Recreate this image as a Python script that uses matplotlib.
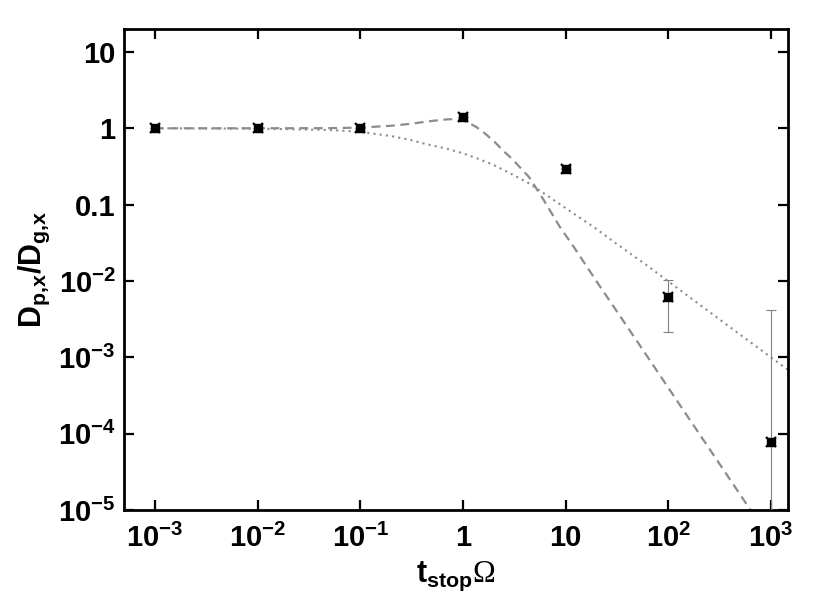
import matplotlib
matplotlib.use("Agg")
import matplotlib.pyplot as plt
import numpy as np

# measured points
t_data = [1e-3, 1e-2, 1e-1, 1.0, 10.0, 100.0, 1000.0]
d_data = [1.0, 1.0, 1.0, 1.4, 0.296, 6.15e-3, 7.7e-5]
err_lo = [0.0, 0.0, 0.0, 0.0, 0.0, 6.15e-3 - 2.14e-3, 7.7e-5 - 1e-8]
err_hi = [0.0, 0.0, 0.0, 0.0, 0.0, 1.02e-2 - 6.15e-3, 4.2e-3 - 7.7e-5]

# dotted model curve
t_dot = [1e-3, 1e-2, 0.05, 0.1, 0.2, 0.3, 0.44, 0.7, 1.0, 1.4, 2.0, 3.0, 4.4, 7.0,
         10.0, 20.0, 30.0, 60.0, 100.0, 300.0, 1000.0, 1500.0]
d_dot = [1.0, 0.99, 0.95, 0.90, 0.79, 0.71, 0.62, 0.54, 0.47, 0.40, 0.33, 0.25, 0.19, 0.125,
         0.09, 0.048, 0.032, 0.0165, 0.0099, 0.0033, 0.001, 0.00067]

# dashed model curve
t_dash = [1e-3, 1e-2, 0.05, 0.1, 0.2, 0.3, 0.4, 0.5, 0.6, 0.7, 0.85, 1.0, 1.15, 1.35, 1.6,
          2.0, 2.5, 3.0, 4.4, 6.0, 8.8, 12.0, 20.0, 50.0, 100.0, 200.0, 500.0, 800.0]
d_dash = [1.0, 1.0, 1.005, 1.02, 1.08, 1.14, 1.20, 1.25, 1.28, 1.31, 1.32, 1.27, 1.17, 1.04, 0.88,
          0.68, 0.50, 0.40, 0.23, 0.12, 0.051, 0.028, 0.0099, 0.0016, 4.0e-4, 1.0e-4, 1.6e-5, 6.2e-6]

x_ticks = [1e-3, 1e-2, 1e-1, 1, 10, 100, 1000]
x_labels = [r'$\mathbf{10^{-3}}$', r'$\mathbf{10^{-2}}$', r'$\mathbf{10^{-1}}$', '1', '10',
            r'$\mathbf{10^{2}}$', r'$\mathbf{10^{3}}$']
y_ticks = [1e-5, 1e-4, 1e-3, 1e-2, 0.1, 1, 10]
y_labels = [r'$\mathbf{10^{-5}}$', r'$\mathbf{10^{-4}}$', r'$\mathbf{10^{-3}}$', r'$\mathbf{10^{-2}}$',
            '0.1', '1', '10']

plt.rcParams['font.family'] = ['Liberation Sans', 'DejaVu Sans']
plt.rcParams['mathtext.fontset'] = 'custom'
plt.rcParams['mathtext.rm'] = 'Liberation Serif:normal'
plt.rcParams['mathtext.bf'] = 'Liberation Sans:bold'
plt.rcParams['mathtext.it'] = 'Liberation Sans:bold'

fig = plt.figure(figsize=(8.3, 6.0), dpi=100)
ax = fig.add_axes([0.1494, 0.15, 0.80, 0.8017])
ax.set_xscale('log')
ax.set_yscale('log')

ax.plot(t_dot, d_dot, linestyle=(0, (1, 2)), color='#8c8c8c', lw=1.5, zorder=2)
ax.plot(t_dash, d_dash, linestyle=(0, (4, 2.5)), color='#8c8c8c', lw=1.6, zorder=2)

ax.errorbar(t_data, d_data, yerr=[err_lo, err_hi], fmt='none', ecolor='#808080',
            elinewidth=0.8, capsize=3.3, capthick=0.8, zorder=3)
ax.plot(t_data, d_data, linestyle='none', marker='s', ms=5.5, color='black', zorder=4)
ax.plot(t_data, d_data, linestyle='none', marker='x', ms=7, mew=1.6, color='black', zorder=4)

ax.set_xlim(5.0e-4, 1.466e3)
ax.set_ylim(1e-5, 20)

ax.set_xticks(x_ticks)
ax.set_xticklabels(x_labels)
ax.set_yticks(y_ticks)
ax.set_yticklabels(y_labels)
ax.minorticks_off()
ax.tick_params(which='major', direction='in', length=7, width=1.6, top=True, right=True,
               labelsize=21)
ax.tick_params(axis='x', pad=10)
ax.tick_params(axis='y', pad=6)
for lab in ax.get_xticklabels() + ax.get_yticklabels():
    lab.set_fontweight('bold')
for s in ax.spines.values():
    s.set_linewidth(2.0)

ax.set_xlabel(r'$\mathbf{t_{stop}}\mathrm{\Omega}$', fontsize=22, labelpad=5)
ax.set_ylabel(r'$\mathbf{D_{p{,}x}/D_{g{,}x}}$', fontsize=22, labelpad=4)

fig.savefig('out.png', dpi=100)
